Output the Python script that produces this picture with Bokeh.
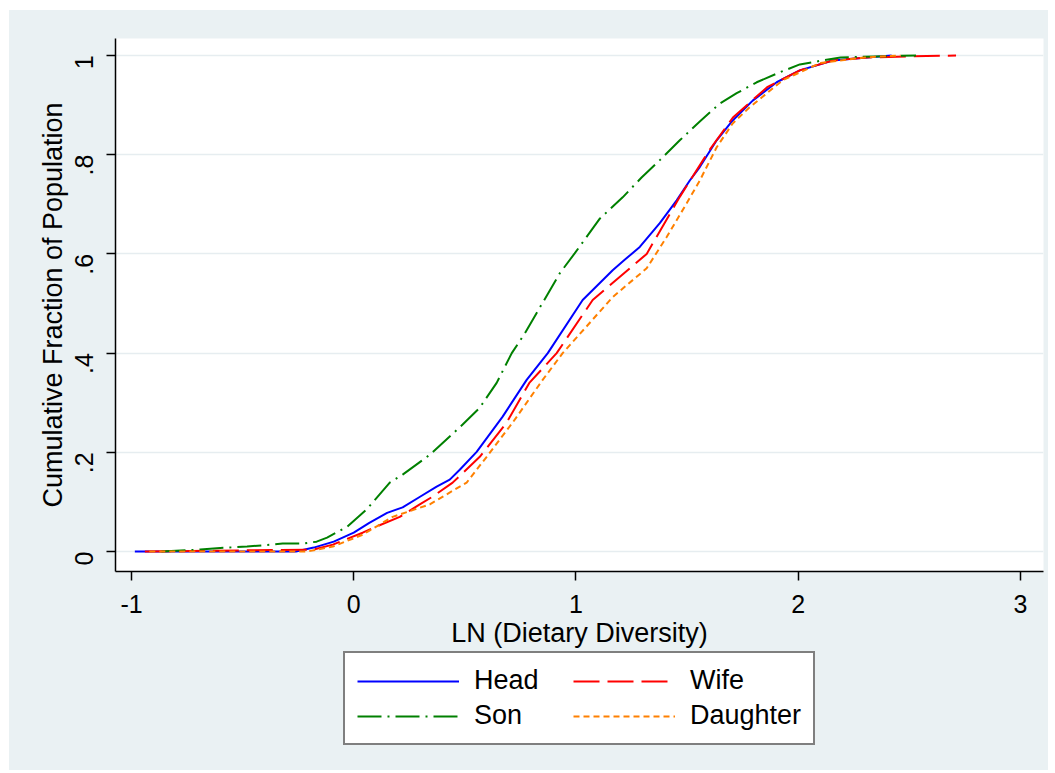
import math
from bokeh.plotting import figure
from bokeh.layouts import column
from bokeh.models import Legend, LegendItem, Range1d, FixedTicker
from bokeh.embed import file_html
from bokeh.resources import INLINE

# ---- data (cumulative distribution points) ----
head_x = [-0.985, -0.26, -0.18, -0.09, 0.0, 0.07, 0.15, 0.22, 0.30, 0.373, 0.432, 0.477, 0.553,
          0.67, 0.778, 0.873, 1.03, 1.165, 1.219, 1.287, 1.377, 1.453, 1.512, 1.557, 1.633,
          1.705, 1.795, 1.903, 2.007, 2.155, 2.31, 2.42]
head_y = [0.0, 0.0, 0.008, 0.02, 0.038, 0.058, 0.078, 0.089, 0.111, 0.131, 0.145, 0.165, 0.201,
          0.272, 0.346, 0.40, 0.507, 0.567, 0.588, 0.614, 0.662, 0.708, 0.748, 0.775, 0.829,
          0.869, 0.909, 0.946, 0.970, 0.990, 0.996, 1.0]

wife_x = [-0.94, -0.18, -0.094, 0.04, 0.10, 0.207, 0.297, 0.356, 0.445, 0.567, 0.688, 0.79,
          0.913, 1.075, 1.318, 1.467, 1.60, 1.706, 1.86, 2.007, 2.155, 2.31, 2.50, 2.71]
wife_y = [0.0, 0.004, 0.014, 0.038, 0.05, 0.07, 0.095, 0.111, 0.139, 0.191, 0.26, 0.34,
          0.40, 0.507, 0.60, 0.715, 0.809, 0.875, 0.936, 0.970, 0.990, 0.996, 0.998, 1.0]

son_x = [-0.865, -0.69, -0.57, -0.48, -0.32, -0.23, -0.167, -0.12, -0.03, 0.058, 0.162, 0.22,
         0.342, 0.49, 0.567, 0.643, 0.711, 0.77, 0.927, 0.994, 1.107, 1.21, 1.295, 1.377,
         1.467, 1.557, 1.647, 1.723, 1.813, 1.917, 2.007, 2.19, 2.53]
son_y = [0.0, 0.004, 0.008, 0.01, 0.016, 0.016, 0.02, 0.028, 0.05, 0.085, 0.139, 0.155,
         0.195, 0.256, 0.29, 0.34, 0.40, 0.44, 0.561, 0.601, 0.671, 0.714, 0.754, 0.789,
         0.829, 0.867, 0.903, 0.924, 0.946, 0.966, 0.982, 0.996, 1.0]

daughter_x = [-0.92, -0.21, -0.094, 0.04, 0.175, 0.342, 0.477, 0.508, 0.598, 0.715, 0.85,
              0.94, 1.04, 1.165, 1.318, 1.408, 1.498, 1.557, 1.633, 1.705, 1.78, 1.93, 2.10,
              2.30, 2.46]
daughter_y = [0.0, 0.0, 0.01, 0.034, 0.07, 0.095, 0.131, 0.139, 0.191, 0.26, 0.346,
              0.40, 0.45, 0.513, 0.571, 0.634, 0.702, 0.748, 0.815, 0.863, 0.895, 0.950, 0.985,
              0.996, 1.0]

series_names = ["Head", "Wife", "Son", "Daughter"]
x_ticks = [-1, 0, 1, 2, 3]
x_tick_labels = ["-1", "0", "1", "2", "3"]
y_ticks = [0, 0.2, 0.4, 0.6, 0.8, 1.0]
y_tick_labels = ["0", ".2", ".4", ".6", ".8", "1"]

FONT = "Liberation Sans"
BG = "#EAF1F3"
styles = [
    dict(line_color="#0000FF", line_width=2),
    dict(line_color="#FF0000", line_width=2, line_dash="26 8"),
    dict(line_color="#008000", line_width=2, line_dash="24 6 2 6"),
    dict(line_color="#FF8000", line_width=2, line_dash="6 4"),
]

W = 1039
H_MAIN = 640
H_LEG = 120

p = figure(width=W, height=H_MAIN, output_backend="svg", toolbar_location=None,
           x_range=Range1d(-1.072, 3.1035), y_range=Range1d(-0.0402, 1.0342),
           min_border_left=106, min_border_right=5, min_border_top=28, min_border_bottom=78)
p.border_fill_color = BG
p.background_fill_color = "white"
p.outline_line_color = None

for xs, ys, st in zip([head_x, wife_x, son_x, daughter_x],
                      [head_y, wife_y, son_y, daughter_y], styles):
    p.line(xs, ys, **st)

for ax in (p.xaxis[0], p.yaxis[0]):
    ax.axis_line_color = "black"
    ax.axis_line_width = 1.5
    ax.major_tick_line_color = "black"
    ax.major_tick_line_width = 1.5
    ax.major_tick_out = 9
    ax.major_tick_in = 0
    ax.minor_tick_line_color = None
    ax.major_label_text_font = FONT
    ax.major_label_text_font_size = "25px"
    ax.major_label_text_color = "black"
    ax.axis_label_text_font = FONT
    ax.axis_label_text_font_size = "27px"
    ax.axis_label_text_font_style = "normal"
    ax.axis_label_text_color = "black"

p.xaxis[0].ticker = FixedTicker(ticks=x_ticks)
p.xaxis[0].major_label_overrides = {t: l for t, l in zip(x_ticks, x_tick_labels)}
p.xaxis[0].axis_label = "LN (Dietary Diversity)"
p.xaxis[0].major_label_standoff = 14
p.xaxis[0].axis_label_standoff = 2

p.yaxis[0].ticker = FixedTicker(ticks=y_ticks)
p.yaxis[0].major_label_overrides = {t: l for t, l in zip(y_ticks, y_tick_labels)}
p.yaxis[0].axis_label = "Cumulative Fraction of Population"
p.yaxis[0].major_label_orientation = math.pi / 2
p.yaxis[0].major_label_standoff = 22
p.yaxis[0].axis_label_standoff = -4

p.xgrid.grid_line_color = None
p.ygrid.grid_line_color = "#E6EDF0"
p.ygrid.grid_line_width = 1.5
p.ygrid.ticker = FixedTicker(ticks=y_ticks)

# legend strip below the plot (its own small figure, frame aligned with the plot)
q = figure(width=W, height=H_LEG, output_backend="svg", toolbar_location=None,
           x_axis_location=None, y_axis_location=None,
           x_range=Range1d(0, 1), y_range=Range1d(0, 1),
           min_border_left=0, min_border_right=0, min_border_top=0, min_border_bottom=0)
q.border_fill_color = BG
q.background_fill_alpha = 0
q.outline_line_color = None
q.xgrid.grid_line_color = None
q.ygrid.grid_line_color = None

# legend-only renderers: their points lie outside the strip's visible range
leg_renderers = [q.line([-10, -9], [-10, -9], **st) for st in styles]
legend = Legend(items=[LegendItem(label=n, renderers=[r])
                       for n, r in zip(series_names, leg_renderers)],
                orientation="horizontal", ncols=2, location=(228, 25))
legend.label_text_font = FONT
legend.label_text_font_size = "27px"
legend.label_text_color = "black"
legend.glyph_width = 102
legend.glyph_height = 28
legend.label_height = 28
legend.label_width = 95
legend.label_standoff = 15
legend.spacing = 4
legend.padding = 12
legend.margin = 0
legend.border_line_color = "black"
legend.border_line_width = 2
legend.background_fill_color = "white"
legend.background_fill_alpha = 1.0
q.add_layout(legend, "center")

layout = column(p, q, spacing=0, margin=(10, 0, 0, 9),
                styles={"background-color": BG})
open("out.html", "w").write(file_html(layout, INLINE))
